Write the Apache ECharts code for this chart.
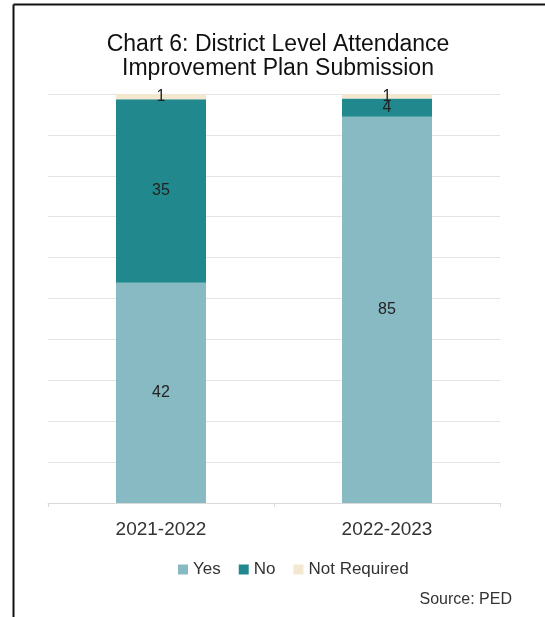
<!DOCTYPE html>
<html>
<head>
<meta charset="utf-8">
<script src="https://cdn.jsdelivr.net/npm/echarts@6/dist/echarts.min.js"></script>
<style>
html,body{margin:0;padding:0;background:#fff;}
#chart{width:545px;height:617px;}
</style>
</head>
<body>
<div id="chart"></div>
<script>
var categories = ['2021-2022', '2022-2023'];
var yesValues = [42, 85];
var noValues = [35, 4];
var notRequiredValues = [1, 1];
var seriesNames = ['Yes', 'No', 'Not Required'];
var seriesColors = ['#87BAC2', '#21898E', '#F3E7D0'];

var totals = categories.map(function (c, i) {
  return yesValues[i] + noValues[i] + notRequiredValues[i];
});
function pct(arr) {
  return arr.map(function (v, i) { return { value: v / totals[i] * 100, raw: v }; });
}
var rawSets = [yesValues, noValues, notRequiredValues];

var chart = echarts.init(document.getElementById('chart'));
chart.setOption({
  animation: false,
  backgroundColor: '#fff',
  title: {
    text: 'Chart 6: District Level Attendance\nImprovement Plan Submission',
    left: 273,
    textAlign: 'center',
    top: 28,
    textStyle: {
      fontFamily: 'Liberation Sans',
      fontSize: 23,
      fontWeight: 'normal',
      color: '#111',
      lineHeight: 24
    }
  },
  legend: {
    data: seriesNames,
    bottom: 34,
    left: 173,
    itemWidth: 10,
    itemHeight: 10,
    itemGap: 18,
    icon: 'rect',
    textStyle: { fontFamily: 'Liberation Sans', fontSize: 17, color: '#333', padding: [0, 0, 0, 0] }
  },
  grid: { left: 48, right: 45, top: 94, bottom: 114 },
  xAxis: {
    type: 'category',
    data: categories,
    axisLine: { lineStyle: { color: '#d9d9d9' } },
    axisTick: { show: true, length: 4, lineStyle: { color: '#d9d9d9' } },
    axisLabel: { fontFamily: 'Liberation Sans', fontSize: 19, color: '#333', margin: 17 }
  },
  yAxis: {
    type: 'value',
    min: 0,
    max: 100,
    interval: 10,
    axisLabel: { show: false },
    axisLine: { show: false },
    axisTick: { show: false },
    splitLine: { lineStyle: { color: '#e4e4e4' } }
  },
  series: seriesNames.map(function (name, k) {
    return {
      name: name,
      type: 'bar',
      stack: 'total',
      barWidth: 90,
      itemStyle: { color: seriesColors[k] },
      data: pct(rawSets[k]),
      label: {
        show: true,
        position: 'inside',
        fontFamily: 'Liberation Sans',
        fontSize: 16,
        color: '#222',
        formatter: function (p) { return p.data.raw; }
      }
    };
  }),
  graphic: [
    { type: 'line', shape: { x1: 13.5, y1: 4.5, x2: 545, y2: 4.5 }, style: { stroke: '#111', lineWidth: 2 } },
    { type: 'line', shape: { x1: 13.5, y1: 4.5, x2: 13.5, y2: 617 }, style: { stroke: '#111', lineWidth: 2 } },
    { type: 'text', right: 33, top: 592, style: { text: 'Source: PED', font: '16px "Liberation Sans"', fill: '#333' } }
  ]
});
</script>
</body>
</html>
